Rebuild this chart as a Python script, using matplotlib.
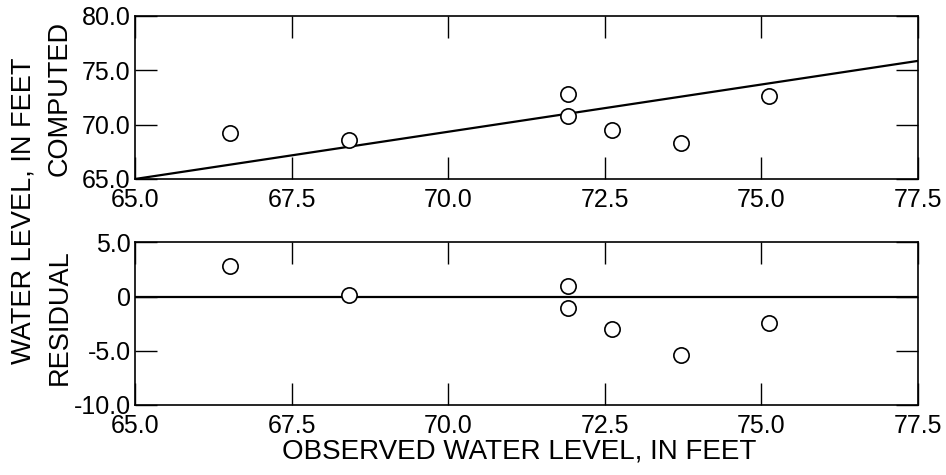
import numpy as np
import matplotlib
matplotlib.use("Agg")
import matplotlib.pyplot as plt

plt.rcParams['font.family'] = ['Liberation Sans', 'DejaVu Sans']

# observed vs computed water levels (feet)
observed = [66.52, 68.42, 71.92, 71.92, 72.62, 73.72, 75.12]
computed = [69.27, 68.57, 72.82, 70.80, 69.51, 68.32, 72.60]
residual = [2.80, 0.10, 0.94, -1.08, -2.99, -5.36, -2.44]

# fitted line end points
fit_x = [65.0, 77.5]
fit_y = [65.0, 75.85]

x_ticks = [65.0, 67.5, 70.0, 72.5, 75.0, 77.5]
top_yticks = [65.0, 70.0, 75.0, 80.0]
bot_yticks = [-10.0, -5.0, 0.0, 5.0]
bot_ylabels = ['-10.0', '-5.0', '0', '5.0']

fig = plt.figure(figsize=(9.46, 4.75), dpi=100)
W, H = 946, 475
ax1 = fig.add_axes([135 / W, 1 - 179 / H, (918 - 135) / W, (179 - 15.7) / H])
ax2 = fig.add_axes([135 / W, 1 - 405 / H, (918 - 135) / W, (405 - 242.3) / H])


def style(ax):
    ax.set_xlim(65, 77.5)
    ax.set_xticks(x_ticks)
    ax.set_xticklabels(['%.1f' % v for v in x_ticks])
    ax.tick_params(direction='in', length=16, width=1, top=True, right=True,
                   labelsize=18, pad=3)
    ax.tick_params(axis='x', pad=6.5)
    for s in ax.spines.values():
        s.set_linewidth(1.2)


ax1.plot(fit_x, fit_y, color='black', lw=1.6, zorder=2)
ax1.plot(observed, computed, 'o', mfc='white', mec='black', ms=11, mew=1.2, zorder=3)
ax1.set_ylim(65, 80)
ax1.set_yticks(top_yticks)
ax1.set_yticklabels(['%.1f' % v for v in top_yticks])
style(ax1)

ax2.axhline(0, color='black', lw=1.6, zorder=2)
ax2.plot(observed, residual, 'o', mfc='white', mec='black', ms=11, mew=1.2, zorder=3)
ax2.set_ylim(-10, 5)
ax2.set_yticks(bot_yticks)
ax2.set_yticklabels(bot_ylabels)
style(ax2)

fig.text(519 / W, 1 - 459 / H, 'OBSERVED WATER LEVEL, IN FEET',
         ha='center', va='baseline', fontsize=20)
fig.text(24 / W, 1 - 211 / H, 'WATER LEVEL, IN FEET', rotation=90,
         ha='center', va='center', fontsize=19.5)
fig.text(60 / W, 1 - 99 / H, 'COMPUTED', rotation=90,
         ha='center', va='center', fontsize=19.5)
fig.text(60 / W, 1 - 317 / H, 'RESIDUAL', rotation=90,
         ha='center', va='center', fontsize=19.5)

fig.savefig('out.png', dpi=100)
